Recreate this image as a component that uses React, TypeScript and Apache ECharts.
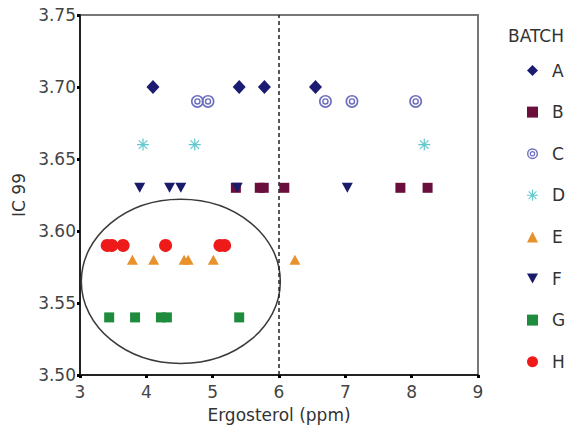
import React, { useEffect, useRef } from "react";
import * as echarts from "echarts";

const batchNames = ["A", "B", "C", "D", "E", "F", "G", "H"];
const aX = [4.1, 5.4, 5.78, 6.55];
const aY = [3.7, 3.7, 3.7, 3.7];
const bX = [5.35, 5.71, 5.77, 6.08, 7.83, 8.24];
const bY = [3.63, 3.63, 3.63, 3.63, 3.63, 3.63];
const cX = [4.77, 4.93, 6.7, 7.1, 8.06];
const cY = [3.69, 3.69, 3.69, 3.69, 3.69];
const dX = [3.95, 4.73, 8.19];
const dY = [3.66, 3.66, 3.66];
const eX = [3.79, 4.11, 4.57, 4.63, 5.01, 6.24];
const eY = [3.58, 3.58, 3.58, 3.58, 3.58, 3.58];
const fX = [3.9, 4.35, 4.52, 5.37, 7.03];
const fY = [3.63, 3.63, 3.63, 3.63, 3.63];
const gX = [3.44, 3.83, 4.22, 4.31, 5.4];
const gY = [3.54, 3.54, 3.54, 3.54, 3.54];
const hX = [3.41, 3.48, 3.65, 4.29, 5.11, 5.18];
const hY = [3.59, 3.59, 3.59, 3.59, 3.59, 3.59];
const cutoffX = 6;
// ellipse: center x, center y, radius x, radius y (data units)
const ellipseSpec = [4.52, 3.565, 1.5, 0.057];

const zip = (xs: number[], ys: number[]) => xs.map((x, i) => [x, ys[i]]);

const FONT = "DejaVu Sans";

const ringPath =
  "path://M0,10A10,10 0 1 1 20,10A10,10 0 1 1 0,10Z" +
  "M2.6,10A7.4,7.4 0 1 0 17.4,10A7.4,7.4 0 1 0 2.6,10Z" +
  "M5,10A5,5 0 1 1 15,10A5,5 0 1 1 5,10Z" +
  "M7.2,10A2.8,2.8 0 1 0 12.8,10A2.8,2.8 0 1 0 7.2,10Z";
const starPath =
  "path://M0,9L20,9L20,11L0,11Z M9,0L11,0L11,20L9,20Z " +
  "M2.2,3.6L3.6,2.2L17.8,16.4L16.4,17.8Z M16.4,2.2L17.8,3.6L3.6,17.8L2.2,16.4Z";
const downTri = "path://M0,0L20,0L10,18Z";

export default function App() {
  const ref = useRef<HTMLDivElement>(null);
  useEffect(() => {
    if (!ref.current) return;
    const chart = echarts.init(ref.current, undefined, { renderer: "svg" });
    const specs = [
      { name: "A", data: zip(aX, aY), symbol: "diamond", size: [13, 14], color: "#1b1b72" },
      { name: "B", data: zip(bX, bY), symbol: "rect", size: 10, color: "#6a0f3c" },
      { name: "C", data: zip(cX, cY), symbol: ringPath, size: 13, color: "#6e6ec0" },
      { name: "D", data: zip(dX, dY), symbol: starPath, size: 12, color: "#62c8cc" },
      { name: "E", data: zip(eX, eY), symbol: "triangle", size: [11, 10], color: "#e8922e" },
      { name: "F", data: zip(fX, fY), symbol: downTri, size: [11, 10], color: "#1b1b6c" },
      { name: "G", data: zip(gX, gY), symbol: "rect", size: 10, color: "#1f8b3c" },
      { name: "H", data: zip(hX, hY), symbol: "circle", size: 13, color: "#ee1a1a" },
    ];
    const series: any[] = specs.map((s) => ({
      type: "scatter",
      name: s.name,
      data: s.data,
      symbol: s.symbol,
      symbolSize: s.size,
      itemStyle: { color: s.color, opacity: 1 },
      z: 3,
    }));
    series.push({
      type: "custom",
      name: "ellipse",
      data: [ellipseSpec],
      silent: true,
      z: 2,
      renderItem: (params: any, api: any) => {
        const c = api.coord([api.value(0), api.value(1)]);
        const sz = api.size([api.value(2), api.value(3)]);
        return {
          type: "ellipse",
          shape: { cx: c[0], cy: c[1], rx: sz[0], ry: sz[1] },
          style: { fill: "none", stroke: "#3a3a3a", lineWidth: 1.5 },
        };
      },
    });
    series.push({
      type: "scatter",
      name: "cutoff",
      data: [],
      markLine: {
        silent: true,
        symbol: "none",
        label: { show: false },
        lineStyle: { type: [4, 3], color: "#222", width: 1.5 },
        data: [{ xAxis: cutoffX }],
      },
    });
    chart.setOption({
      animation: false,
      backgroundColor: "#fff",
      textStyle: { fontFamily: FONT },
      title: {
        text: "BATCH",
        left: 503,
        top: 22,
        textStyle: { fontFamily: FONT, fontSize: 17, fontWeight: "normal", color: "#333" },
      },
      legend: {
        data: batchNames,
        orient: "vertical",
        left: 522,
        top: 57,
        itemWidth: 11,
        itemHeight: 11,
        itemGap: 24.6,
        selectedMode: false,
        textStyle: { fontFamily: FONT, fontSize: 17, color: "#333", padding: [0, 0, 0, 9] },
      },
      grid: {
        left: 80,
        right: 96,
        top: 15,
        bottom: 51,
        show: true,
        borderColor: "#777",
        borderWidth: 2,
      },
      xAxis: {
        type: "value",
        min: 3,
        max: 9,
        interval: 1,
        name: "Ergosterol (ppm)",
        nameLocation: "middle",
        nameGap: 31,
        nameTextStyle: { fontFamily: FONT, fontSize: 17, color: "#333" },
        axisLine: { show: true, lineStyle: { color: "#222", width: 2 } },
        axisTick: { show: true, length: 3, lineStyle: { color: "#000", width: 3 } },
        axisLabel: { fontFamily: FONT, fontSize: 17, color: "#444", margin: 8 },
        splitLine: { show: false },
      },
      yAxis: {
        type: "value",
        min: 3.5,
        max: 3.75,
        interval: 0.05,
        name: "IC 99",
        nameLocation: "middle",
        nameGap: 50,
        nameTextStyle: { fontFamily: FONT, fontSize: 17, color: "#333" },
        axisLine: { show: true, lineStyle: { color: "#222", width: 2 } },
        axisTick: { show: true, length: 3, lineStyle: { color: "#000", width: 3 } },
        axisLabel: {
          fontFamily: FONT,
          fontSize: 17,
          color: "#444",
          margin: 4,
          formatter: (v: number) => v.toFixed(2),
        },
        splitLine: { show: false },
      },
      series,
    });
    return () => chart.dispose();
  }, []);
  return <div ref={ref} style={{ width: 574, height: 428, position: "absolute", left: 0, top: 0 }} />;
}
